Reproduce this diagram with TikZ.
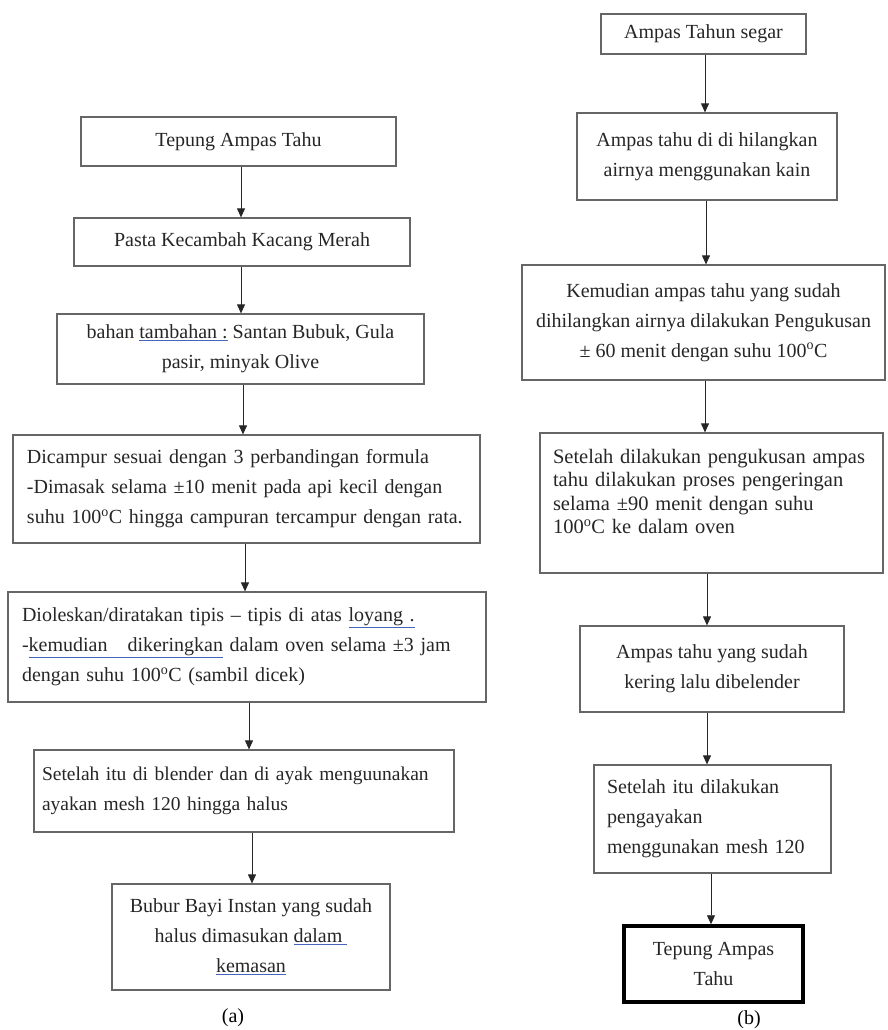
\documentclass[tikz,border=0pt]{standalone}
\usepackage{fontspec}
\setmainfont{Liberation Serif}
\usetikzlibrary{arrows.meta}
\definecolor{markblue}{RGB}{70,100,190}
\newcommand{\wordmark}[1]{{\color{markblue}\underline{\color{black!85}#1}}}
\newcommand{\spreadline}[1]{\makebox[\linewidth][s]{#1}}

\begin{document}
\begin{tikzpicture}[x=1pt, y=-1pt,
    box/.style={draw=black!60, line width=1.2pt, text=black!85, inner sep=0pt,
        align=center, font=\fontsize{20}{30}\selectfont},
    leftbox/.style={box, align=left, inner xsep=14pt},
    arr/.style={-{Triangle[width=8pt,length=9pt]}, line width=0.9pt, black!85}]
    \useasboundingbox (0,0) rectangle (887,1030);
    \node[box, minimum width=315pt, minimum height=49pt] (a1) at (238.5,141.5) {Tepung Ampas Tahu};
    \node[box, minimum width=336pt, minimum height=48pt] (a2) at (242,242) {Pasta Kecambah Kacang Merah};
    \node[box, minimum width=367pt, minimum height=70pt] (a3) at (240.5,349)
        {bahan \wordmark{tambahan :} Santan Bubuk, Gula\\ pasir, minyak Olive};
    \node[leftbox, text width=439pt, minimum height=108pt] (a4) at (246.5,489)
        {Dicampur sesuai dengan 3 perbandingan formula\\
         \spreadline{-Dimasak selama ±10 menit pada api kecil dengan}\\
         suhu 100\textsuperscript{o}C hingga campuran tercampur dengan rata.};
    \node[leftbox, text width=450pt, minimum height=110pt] (a5) at (247,647)
        {Dioleskan/diratakan tipis – tipis di atas \wordmark{loyang .}\\
         \spreadline{-\wordmark{kemudian\ \ \ dikeringkan} dalam oven selama ±3 jam}\\
         dengan suhu 100\textsuperscript{o}C (sambil dicek)};
    \node[leftbox, text width=404pt, minimum height=82pt, inner xsep=8pt,
        font=\fontsize{19.5}{30}\selectfont] (a6) at (244,791)
        {Setelah itu di blender dan di ayak menguunakan\\ ayakan mesh 120 hingga halus};
    \node[box, minimum width=278pt, minimum height=106pt] (a7) at (251,937)
        {Bubur Bayi Instan yang sudah\\ halus dimasukan \wordmark{dalam\ }\\ \wordmark{kemasan}};
    \draw[arr] (241,0 |- a1.south) -- (241,0 |- a2.north);
    \draw[arr] (241,0 |- a2.south) -- (241,0 |- a3.north);
    \draw[arr] (243,0 |- a3.south) -- (243,0 |- a4.north);
    \draw[arr] (245,0 |- a4.south) -- (245,0 |- a5.north);
    \draw[arr] (249,0 |- a5.south) -- (249,0 |- a6.north);
    \draw[arr] (252,0 |- a6.south) -- (252,0 |- a7.north);
    \node[font=\fontsize{20}{24}\selectfont] (capa) at (233,1018) {(a)};
    \node[box, minimum width=205pt, minimum height=40pt] (b1) at (703.5,34) {Ampas Tahun segar};
    \node[box, minimum width=260pt, minimum height=87pt] (b2) at (707,156.5)
        {Ampas tahu di di hilangkan\\ airnya menggunakan kain};
    \node[box, minimum width=363pt, minimum height=115pt] (b3) at (703.5,322.5)
        {Kemudian ampas tahu yang sudah\\ dihilangkan airnya dilakukan Pengukusan\\ ± 60 menit dengan suhu 100\textsuperscript{o}C};
    \node[leftbox, text width=317pt, minimum height=140pt, inner xsep=13pt,
        font=\fontsize{20.5}{23.5}\selectfont] (b4) at (711.5,503)
        {Setelah dilakukan pengukusan ampas\\ tahu dilakukan proses pengeringan\\
         selama ±90 menit dengan suhu\\ 100\textsuperscript{o}C ke dalam oven\\ \mbox{}};
    \node[box, minimum width=264pt, minimum height=86pt] (b5) at (712,669)
        {Ampas tahu yang sudah\\ kering lalu dibelender};
    \node[leftbox, text width=211pt, minimum height=108pt, inner xsep=13pt] (b6) at (712.5,819)
        {Setelah itu dilakukan\\ pengayakan\\ menggunakan mesh 120};
    \node[box, draw=black, line width=3.5pt, minimum width=179pt, minimum height=76pt] (b7) at (713.5,964)
        {Tepung Ampas\\ Tahu};
    \draw[arr] (705,0 |- b1.south) -- (705,0 |- b2.north);
    \draw[arr] (706,0 |- b2.south) -- (706,0 |- b3.north);
    \draw[arr] (705,0 |- b3.south) -- (705,0 |- b4.north);
    \draw[arr] (707,0 |- b4.south) -- (707,0 |- b5.north);
    \draw[arr] (707,0 |- b5.south) -- (707,0 |- b6.north);
    \draw[arr] (711,0 |- b6.south) -- (711,0 |- b7.north);
    \node[font=\fontsize{20}{24}\selectfont] (capb) at (749,1020) {(b)};
\end{tikzpicture}
\end{document}
